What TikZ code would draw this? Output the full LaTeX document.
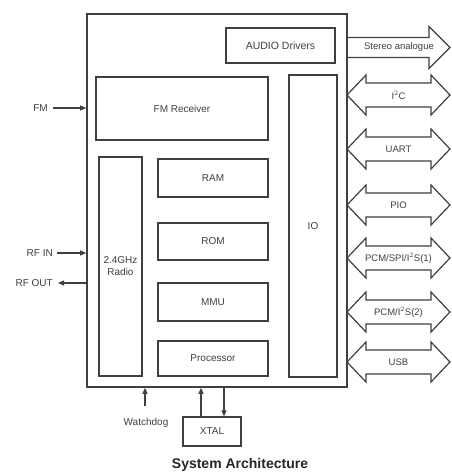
\documentclass[tikz,border=0pt]{standalone}
\usepackage{fontspec}
\setmainfont{Liberation Sans}
\usetikzlibrary{arrows.meta}
\begin{document}
\begin{tikzpicture}[x=1pt,y=-1pt,
  ln/.style={draw=black!75,line width=1.3pt},
  blk/.style={ln,inner sep=0pt,align=center,text=black!75,font=\fontsize{10}{12}\selectfont},
  lbl/.style={text=black!75,font=\fontsize{10}{12}\selectfont,inner sep=0pt},
  sig/.style={draw=black!75,line width=1.1pt,-{Triangle[length=6pt,width=5pt]}},
  bus/.style={draw=black!75,line width=1.2pt,line join=miter}]
\useasboundingbox (0,0) rectangle (451,472);
\fill[white] (0,0) rectangle (451,472);
% main chip
\node[blk,line width=1.6pt,minimum width=260pt,minimum height=373pt] (main) at (217,200.5) {};
\node[blk,minimum width=109pt,minimum height=35pt] (audio) at (280.5,45.5) {\fontsize{10.5}{12}\selectfont AUDIO Drivers};
\node[blk,minimum width=172pt,minimum height=63pt] (fmr) at (182,108.5) {FM Receiver};
\node[blk,minimum width=48pt,minimum height=302pt] (io) at (313,226) {IO};
\node[blk,minimum width=43pt,minimum height=219pt] (radio) at (120.5,266.5) {2.4GHz\\Radio};
\node[blk,minimum width=110pt,minimum height=38pt] (ram) at (213,178) {RAM};
\node[blk,minimum width=110pt,minimum height=37pt] (rom) at (213,241.5) {ROM};
\node[blk,minimum width=110pt,minimum height=38pt] (mmu) at (213,302) {MMU};
\node[blk,minimum width=110pt,minimum height=35pt] (proc) at (213,358.5) {Processor};
\node[blk,minimum width=58pt,minimum height=29pt] (xtal) at (212,431.5) {XTAL};
% left inputs
\node[lbl,anchor=east] (fm) at (48,108) {FM};
\draw[sig] ([xshift=5pt]fm.east) -- (fm.east -| main.west);
\node[lbl,anchor=east] (rfin) at (53,253) {RF IN};
\draw[sig] ([xshift=4pt]rfin.east) -- (rfin.east -| main.west);
\node[lbl,anchor=east] (rfout) at (53,283) {RF OUT};
\draw[sig] (rfout.east -| main.west) -- ([xshift=5pt]rfout.east);
% bottom
\node[lbl] (wd) at (146,423) {Watchdog};
\coordinate (wdtail) at (145,406);
\draw[sig] (wdtail) -- (wdtail |- main.south);
\draw[sig] (xtal.north -| 201,0) -- (201,0 |- main.south);
\draw[sig] (224,0 |- main.south) -- (xtal.north -| 224,0);
% stereo analogue single arrow
\draw[bus] (main.east |- 0,37.5) -- (429,37.5) -- (429,26.5) -- (450,47.5) -- (429,68.5) -- (429,57.5) -- (main.east |- 0,57.5);
\node[lbl,font=\fontsize{9.5}{11}\selectfont] (stereo) at (399,47.5) {Stereo analogue};
% bidirectional buses
\foreach \cy/\txt/\nm in {95/{I$^2$C}/i2c,149/{UART}/uart,205/{PIO}/pio,258/{PCM/SPI/I$^2$S(1)}/pcma,312/{PCM/I$^2$S(2)}/pcmb,362/{USB}/usb}{
  \draw[bus] (347,\cy) -- (366,\cy-20) -- (366,\cy-12) -- (431,\cy-12) -- (431,\cy-20) -- (450,\cy) -- (431,\cy+20) -- (431,\cy+12) -- (366,\cy+12) -- (366,\cy+20) -- cycle;
  \node[lbl,font=\fontsize{9.5}{11}\selectfont] (\nm) at (398.5,\cy) {\txt};
}
% title
\node[font=\bfseries\fontsize{14}{16}\selectfont,text=black!85,inner sep=0pt] (title) at (240,465) {System Architecture};
\end{tikzpicture}
\end{document}
